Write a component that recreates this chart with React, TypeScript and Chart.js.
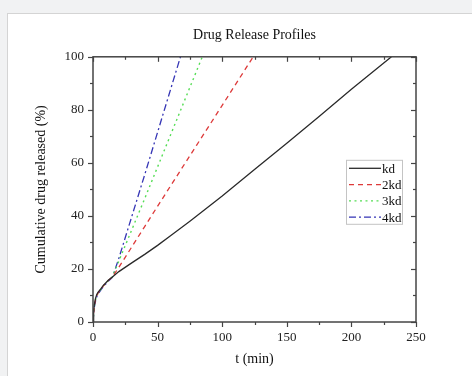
import React, { useEffect, useRef } from "react";
import { Chart, registerables } from "chart.js";

Chart.register(...registerables);

const seriesLabels = ["kd", "2kd", "3kd", "4kd"];

const tKd = [0, 0.5, 1, 2, 3, 4, 6, 8, 10, 12, 15, 20, 30, 40, 50, 60, 75, 100, 125, 150, 175, 200, 231];
const vKd = [0, 4, 6.5, 9, 10.5, 11.3, 12.5, 13.8, 14.8, 15.8, 17, 19, 22.3, 25.5, 28.9, 32.5, 38, 47.5, 57.5, 67.4, 77.5, 87.8, 100];

const t2Kd = [0, 0.5, 1, 2, 3, 4, 6, 8, 10, 12, 15, 20, 40, 60, 80, 100, 124];
const v2Kd = [0, 3.5, 6, 8.5, 10, 11, 12.3, 13.6, 14.7, 15.7, 17, 20.6, 36, 51.3, 66.5, 81.7, 100];

const t3Kd = [0, 0.5, 1, 2, 3, 4, 6, 8, 10, 12, 15, 20, 40, 60, 84.6];
const v3Kd = [0, 3.5, 6, 8.5, 10, 11, 12.3, 13.6, 14.7, 15.7, 17, 23, 46.5, 70.5, 100];

const t4Kd = [0, 0.5, 1, 2, 3, 4, 6, 8, 10, 12, 15, 20, 40, 67.7];
const v4Kd = [0, 3, 5.5, 8, 9.6, 10.6, 12, 13.3, 14.4, 15.5, 16.8, 24, 55.5, 100];

const xTicksMajor = [0, 50, 100, 150, 200, 250];
const xTicksMinor = [25, 75, 125, 175, 225];
const yTicksMajor = [0, 20, 40, 60, 80, 100];
const yTicksMinor = [10, 30, 50, 70, 90];

const FONT = '"Liberation Serif", "Times New Roman", serif';

const pts = (t: number[], v: number[]) => t.map((x, i) => ({ x, y: v[i] }));

const framePlugin = {
  id: "frame",
  afterDraw(chart: any) {
    const { ctx, chartArea: a, scales } = chart;
    const xs = scales.x;
    const ys = scales.y;
    ctx.save();
    ctx.strokeStyle = "#444";
    ctx.lineWidth = 1.5;
    ctx.strokeRect(a.left, a.top, a.right - a.left, a.bottom - a.top);
    ctx.lineWidth = 1.2;
    const tick = (x1: number, y1: number, x2: number, y2: number) => {
      ctx.beginPath();
      ctx.moveTo(x1, y1);
      ctx.lineTo(x2, y2);
      ctx.stroke();
    };
    const drawX = (vals: number[], len: number) => {
      vals.forEach((v) => {
        const px = Math.round(xs.getPixelForValue(v)) + 0.5;
        tick(px, a.bottom, px, a.bottom + len);
        tick(px, a.top, px, a.top + len);
      });
    };
    const drawY = (vals: number[], len: number) => {
      vals.forEach((v) => {
        const py = Math.round(ys.getPixelForValue(v)) + 0.5;
        tick(a.left, py, a.left - len, py);
        tick(a.right, py, a.right - len, py);
      });
    };
    drawX(xTicksMajor, 5);
    drawX(xTicksMinor, 3);
    drawY(yTicksMajor, 5);
    drawY(yTicksMinor, 3);
    ctx.restore();
  },
};

const legendPlugin = {
  id: "insideLegend",
  afterDraw(chart: any) {
    const { ctx, chartArea: a } = chart;
    const w = 56;
    const rowH = 16.3;
    const h = 64;
    const left = a.right - 14 - w;
    const top = a.top + 103;
    ctx.save();
    ctx.fillStyle = "#fff";
    ctx.fillRect(left, top, w, h);
    ctx.strokeStyle = "#c4c4c4";
    ctx.lineWidth = 1;
    ctx.strokeRect(left + 0.5, top + 0.5, w, h);
    ctx.font = `13px ${FONT}`;
    ctx.textBaseline = "middle";
    ctx.textAlign = "left";
    chart.data.datasets.forEach((ds: any, i: number) => {
      const cy = top + 8.5 + i * rowH;
      ctx.strokeStyle = ds.borderColor;
      ctx.lineWidth = ds.borderWidth;
      ctx.setLineDash(ds.borderDash || []);
      ctx.beginPath();
      ctx.moveTo(left + 3, cy);
      ctx.lineTo(left + 35, cy);
      ctx.stroke();
      ctx.setLineDash([]);
      ctx.fillStyle = "#111";
      ctx.fillText(ds.label, left + 36, cy + 1);
    });
    ctx.restore();
  },
};

export default function App() {
  const ref = useRef<HTMLCanvasElement>(null);
  useEffect(() => {
    if (!ref.current) return;
    const chart = new Chart(ref.current, {
      type: "line",
      data: {
        datasets: [
          { label: seriesLabels[0], data: pts(tKd, vKd), borderColor: "#2a2a2a", borderWidth: 1.3, borderDash: [] },
          { label: seriesLabels[1], data: pts(t2Kd, v2Kd), borderColor: "#dd3a3a", borderWidth: 1.3, borderDash: [5, 4] },
          { label: seriesLabels[2], data: pts(t3Kd, v3Kd), borderColor: "#55dd55", borderWidth: 1.4, borderDash: [2, 3.5] },
          { label: seriesLabels[3], data: pts(t4Kd, v4Kd), borderColor: "#3535b5", borderWidth: 1.3, borderDash: [7, 3, 2, 3] },
        ] as any,
      },
      options: {
        animation: false,
        responsive: false,
        events: [],
        elements: { point: { radius: 0 }, line: { tension: 0 } },
        layout: { padding: { left: 0, right: 56, top: 0, bottom: 0 } },
        plugins: {
          legend: { display: false },
          tooltip: { enabled: false },
          title: {
            display: true,
            text: "Drug Release Profiles",
            fullSize: false,
            color: "#111",
            font: { family: FONT, size: 14, weight: "normal" },
            padding: { top: 13, bottom: 13 },
          },
        },
        scales: {
          x: {
            type: "linear",
            min: 0,
            max: 250,
            grid: { display: false, drawTicks: false },
            border: { display: false },
            ticks: { stepSize: 50, padding: 8, color: "#222", font: { family: FONT, size: 13 }, maxRotation: 0 },
            title: {
              display: true,
              text: "t (min)",
              color: "#111",
              font: { family: FONT, size: 14 },
              padding: { top: 4, bottom: 8 },
            },
            afterFit: (s: any) => {
              s.height = 54;
            },
          },
          y: {
            type: "linear",
            min: 0,
            max: 100,
            grid: { display: false, drawTicks: false },
            border: { display: false },
            ticks: { stepSize: 20, padding: 9, color: "#222", font: { family: FONT, size: 13 } },
            title: {
              display: true,
              text: "Cumulative drug released (%)",
              color: "#111",
              font: { family: FONT, size: 14 },
              padding: { top: 25, bottom: 4 },
            },
            afterFit: (s: any) => {
              s.width = 85;
            },
          },
        },
      },
      plugins: [framePlugin, legendPlugin],
    });
    return () => chart.destroy();
  }, []);

  return (
    <div style={{ position: "fixed", left: 0, top: 0, width: 472, height: 376, background: "#f1f2f3", overflow: "hidden" }}>
      <div
        style={{
          position: "absolute",
          left: 7,
          top: 13,
          width: 465,
          height: 363,
          background: "#fff",
          borderTop: "1px solid #d4d4d4",
          borderLeft: "1px solid #d4d4d4",
          boxSizing: "border-box",
        }}
      >
        <canvas ref={ref} width={464} height={362} style={{ display: "block" }} />
      </div>
    </div>
  );
}
